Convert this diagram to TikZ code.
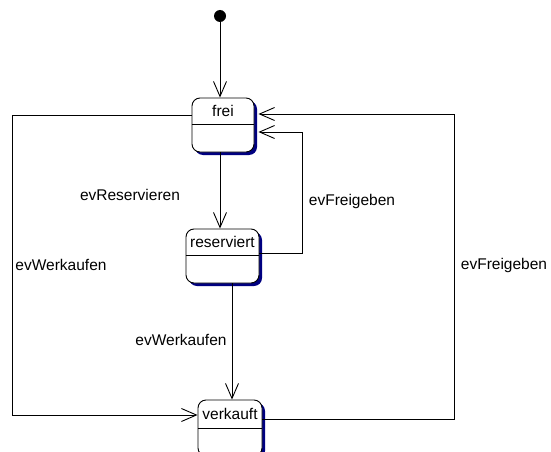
\documentclass[tikz,border=0pt]{standalone}
\usepackage{fontspec}
\setmainfont{Liberation Sans}
\usetikzlibrary{arrows.meta,shadows}
\definecolor{shadowblue}{RGB}{0,0,128}
\begin{document}
\begin{tikzpicture}[x=1pt,y=-1pt, line width=0.9pt,
  txt/.style={font=\fontsize{15.5}{18}\selectfont, inner sep=0pt},
  state/.style={draw=black, fill=white, rounded corners=8pt, inner sep=0pt,
    drop shadow={shadow xshift=3pt, shadow yshift=-3pt, fill=shadowblue, opacity=1}},
  conn/.style={draw=black, -{Straight Barb[length=15pt,width=13pt,line width=0.9pt]}}]
\useasboundingbox (0,0) rectangle (551,452);
\clip (0,0) rectangle (551,452);

% initial state
\node[circle, fill=black, minimum size=12pt, inner sep=0pt] (start) at (220,16) {};

% states
\node[state, minimum width=62pt, minimum height=54pt] (frei) at (223,125) {};
\draw (frei.north west |- 0,124) -- (frei.north east |- 0,124);
\node[txt] (freiT) at (223,111) {frei};

\node[state, minimum width=73pt, minimum height=54pt] (res) at (222.5,256) {};
\draw (res.north west |- 0,255) -- (res.north east |- 0,255);
\node[txt] (resT) at (222.5,242) {reserviert};

\node[state, minimum width=64pt, minimum height=56pt] (verk) at (230,428) {};
\draw (verk.north west |- 0,428) -- (verk.north east |- 0,428);
\node[txt] (verkT) at (230,414) {verkauft};

% bend points
\coordinate (lA) at (12,115);
\coordinate (lB) at (12,415);
\coordinate (rA) at (454,419);
\coordinate (rB) at (454,114);
\coordinate (mA) at (302,253);
\coordinate (mB) at (302,132);

% connectors
\draw[conn] (start) -- (start |- frei.north);
\draw[conn] (frei.south -| 220,0) -- (res.north -| 220,0);
\draw[conn] (res.south -| 232,0) -- (verk.north -| 232,0);
\draw[conn] (res.east |- mA) -- (mA) -- (mB) -- ([xshift=4pt]frei.east |- mB);
\draw[conn] (frei.west |- lA) -- (lA) -- (lB) -- (verk.west |- lB);
\draw[conn] (verk.east |- rA) -- (rA) -- (rB) -- ([xshift=4pt]frei.east |- rB);

% labels
\node[txt] (l1) at (130,195) {evReservieren};
\node[txt] (l2) at (352,201) {evFreigeben};
\node[txt] (l3) at (61,265) {evWerkaufen};
\node[txt] (l4) at (504,265) {evFreigeben};
\node[txt] (l5) at (181,340) {evWerkaufen};
\end{tikzpicture}
\end{document}
